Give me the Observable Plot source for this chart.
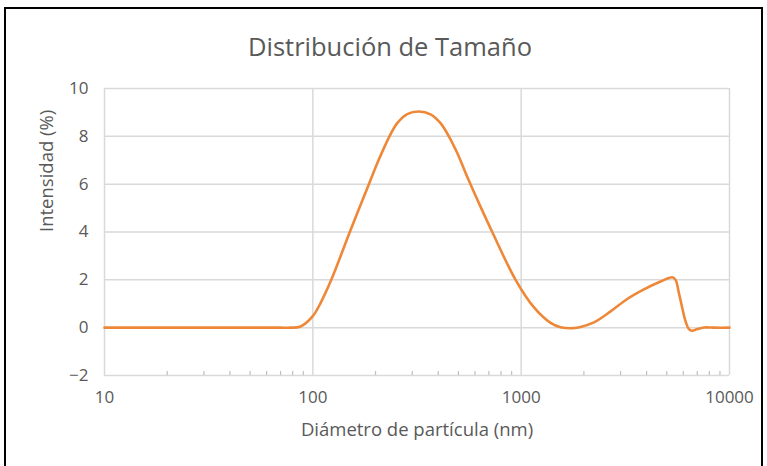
<!DOCTYPE html>
<html>
<head>
<meta charset="utf-8">
<script src="https://cdn.jsdelivr.net/npm/d3@7"></script>
<script src="https://cdn.jsdelivr.net/npm/@observablehq/plot@0.6"></script>
<style>
  body { margin: 0; background: #fff; font-family: "Open Sans", sans-serif; }
  #wrap { position: relative; width: 767px; height: 466px; overflow: hidden; }
  #frame { position: absolute; left: 4px; top: 7px; width: 759px; height: 520px; border: 2px solid #000; box-sizing: border-box; }
  #title { position: absolute; left: 0; top: 34px; width: 780px; text-align: center; font-size: 25.5px; color: #595959; line-height: 1; }
  #chart { position: absolute; left: 0; top: 70px; }
</style>
</head>
<body>
<div id="wrap">
  <div id="frame"></div>
  <div id="title">Distribución de Tamaño</div>
  <div id="chart"></div>
</div>
<script>
// Particle size distribution: diameter (nm) vs. intensity (%)
const diameters = [10, 20, 40, 60, 70, 78.2, 87.3, 99.7, 108.9, 122.6, 150.5, 185.8, 206.7, 231.7, 254.2, 283.9, 322.8, 367.3, 410.2, 449.7, 493.4, 560.9, 638.6, 726.4, 940, 1147, 1384, 1545, 1784, 1928, 2234, 2687, 3231, 3882, 4670, 5313, 5510, 5718, 5934, 6155, 6386, 6625, 7003, 7538, 8500, 10000];
const intensity = [0, 0, 0, 0, 0, 0, 0.05, 0.47, 1.03, 2, 4, 6, 7.0, 7.95, 8.55, 8.93, 9.04, 8.92, 8.55, 8.0, 7.3, 6.15, 5.05, 4.0, 2.0, 0.87, 0.2, 0.02, -0.02, 0.03, 0.22, 0.68, 1.2, 1.6, 1.93, 2.11, 2.0, 1.44, 0.82, 0.26, -0.06, -0.13, -0.06, 0.01, 0, 0];

const xTicks = [10, 100, 1000, 10000];
const xMinorTicks = [20, 30, 40, 50, 60, 70, 80, 90, 200, 300, 400, 500, 600, 700, 800, 900, 2000, 3000, 4000, 5000, 6000, 7000, 8000, 9000];
const yTicks = [-2, 0, 2, 4, 6, 8, 10];

const xLabel = "Diámetro de partícula (nm)";
const yLabel = "Intensidad (%)";

const rows = diameters.map((d, i) => ({d, v: intensity[i]}));

const chart = Plot.plot({
  width: 767,
  height: 396,
  marginTop: 18,
  marginBottom: 91,
  marginLeft: 104,
  marginRight: 38,
  style: {fontFamily: '"Open Sans", sans-serif', fontSize: "17px", color: "#595959", background: "transparent"},
  x: {type: "log", domain: [10, 10000]},
  y: {domain: [-2, 10]},
  marks: [
    Plot.gridX(xTicks, {stroke: "#d9d9d9", strokeOpacity: 1, strokeWidth: 1.5}),
    Plot.gridY(yTicks, {stroke: "#d9d9d9", strokeOpacity: 1, strokeWidth: 1.5}),
    Plot.tickX(xMinorTicks, {x: d => d, insetTop: 283, stroke: "#bfbfbf", strokeWidth: 1.2}),
    Plot.axisX(xTicks, {tickSize: 0, tickPadding: 15, tickFormat: d3.format("d"), label: null}),
    Plot.axisY(yTicks, {tickSize: 0, tickPadding: 16, label: null}),
    Plot.line(rows, {x: "d", y: "v", stroke: "#EE8838", strokeWidth: 2.6, curve: "catmull-rom"}),
    Plot.text([xLabel], {text: d => d, frameAnchor: "bottom", dy: 60, fontSize: 18.5, fill: "#595959"}),
    Plot.text([yLabel], {text: d => d, frameAnchor: "left", dx: -57, rotate: -90, fontSize: 18.5, fill: "#595959"})
  ]
});

document.getElementById("chart").append(chart);
</script>
</body>
</html>
